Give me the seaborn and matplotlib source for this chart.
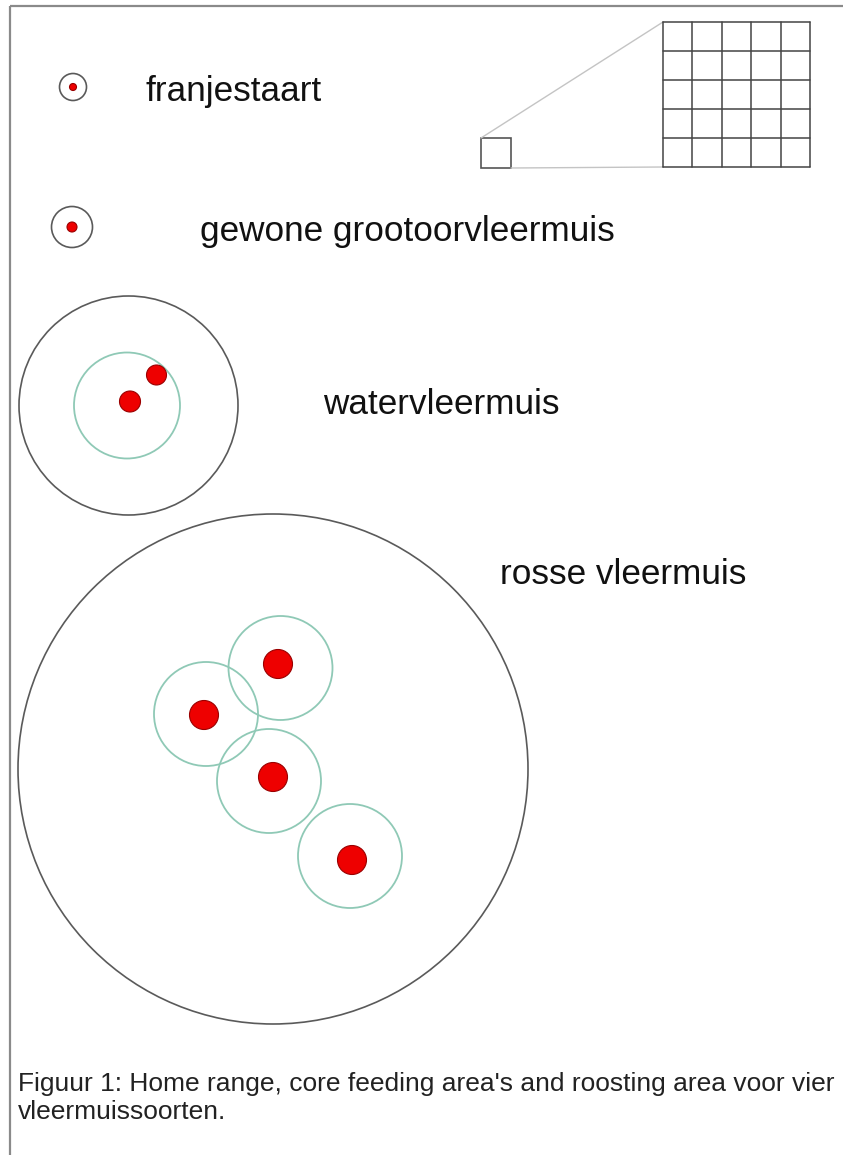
import matplotlib
matplotlib.use("Agg")
import matplotlib.pyplot as plt
from matplotlib.patches import Circle, Rectangle
import seaborn as sns

sns.set_theme(style="white")
plt.rcParams['font.family'] = ['Liberation Sans', 'DejaVu Sans']

# ---- data (diagram units = pixels of the original figure) ----
species = ["franjestaart", "gewone grootoorvleermuis", "watervleermuis", "rosse vleermuis"]
label_x = [145, 200, 323, 500]
label_y = [92, 231, 404, 574]

# home range circles
home_x = [73, 72, 128.5, 273]
home_y = [87, 227, 405.5, 769]
home_r = [13.5, 20.5, 109.5, 255]

# core feeding areas (green rings)
core_x = [127, 280.5, 206, 269, 350]
core_y = [405.5, 668, 714, 781, 856]
core_r = [53, 52, 52, 52, 52]

# roosting areas (red dots)
roost_x = [73, 72, 130, 156.5, 278, 204, 273, 352]
roost_y = [87, 227, 401.5, 375, 664, 715, 777, 860]
roost_r = [3.5, 5, 10.5, 10, 14.5, 14.5, 14.5, 14.5]

# scale inset: small square and enlarged 5x5 grid
small_sq = (481, 138, 30, 30)
grid_box = (663, 22, 147, 145)
grid_n = 5

caption = ["Figuur 1: Home range, core feeding area's and roosting area voor vier",
           "vleermuissoorten."]

fig = plt.figure(figsize=(8.43, 11.55), dpi=100)
ax = fig.add_axes([0, 0, 1, 1])
ax.set_xlim(0, 843)
ax.set_ylim(1155, 0)
ax.set_aspect("equal")
ax.axis("off")

# border lines (top and left)
ax.plot([10, 843], [6, 6], color="#8a8a8a", lw=1.6, solid_capstyle="butt")
ax.plot([10, 10], [6, 1155], color="#8a8a8a", lw=1.6, solid_capstyle="butt")

for x, y, r in zip(home_x, home_y, home_r):
    ax.add_patch(Circle((x, y), r, fill=False, ec="#5a5a5a", lw=1.2))
for x, y, r in zip(core_x, core_y, core_r):
    ax.add_patch(Circle((x, y), r, fill=False, ec="#8fc9b6", lw=1.3))
for x, y, r in zip(roost_x, roost_y, roost_r):
    ax.add_patch(Circle((x, y), r, fc="#ee0000", ec="#9a0000", lw=0.8))

for s, x, y in zip(species, label_x, label_y):
    ax.text(x, y, s, fontsize=25.3, ha="left", va="center", color="#111111")

# scale inset
sx, sy, sw, sh = small_sq
gx, gy, gw, gh = grid_box
ax.plot([sx, gx], [sy, gy], color="#c4c4c4", lw=1.0)
ax.plot([sx + sw, gx], [sy + sh, gy + gh], color="#c4c4c4", lw=1.0)
ax.add_patch(Rectangle((sx, sy), sw, sh, fill=False, ec="#555555", lw=1.2))
for i in range(grid_n + 1):
    xx = gx + gw * i / grid_n
    yy = gy + gh * i / grid_n
    ax.plot([xx, xx], [gy, gy + gh], color="#444444", lw=1.1)
    ax.plot([gx, gx + gw], [yy, yy], color="#444444", lw=1.1)

ax.text(18, 1084, caption[0], fontsize=19.0, ha="left", va="center", color="#222222")
ax.text(18, 1112, caption[1], fontsize=19.0, ha="left", va="center", color="#222222")

fig.savefig("out.png", dpi=100, facecolor="white")
